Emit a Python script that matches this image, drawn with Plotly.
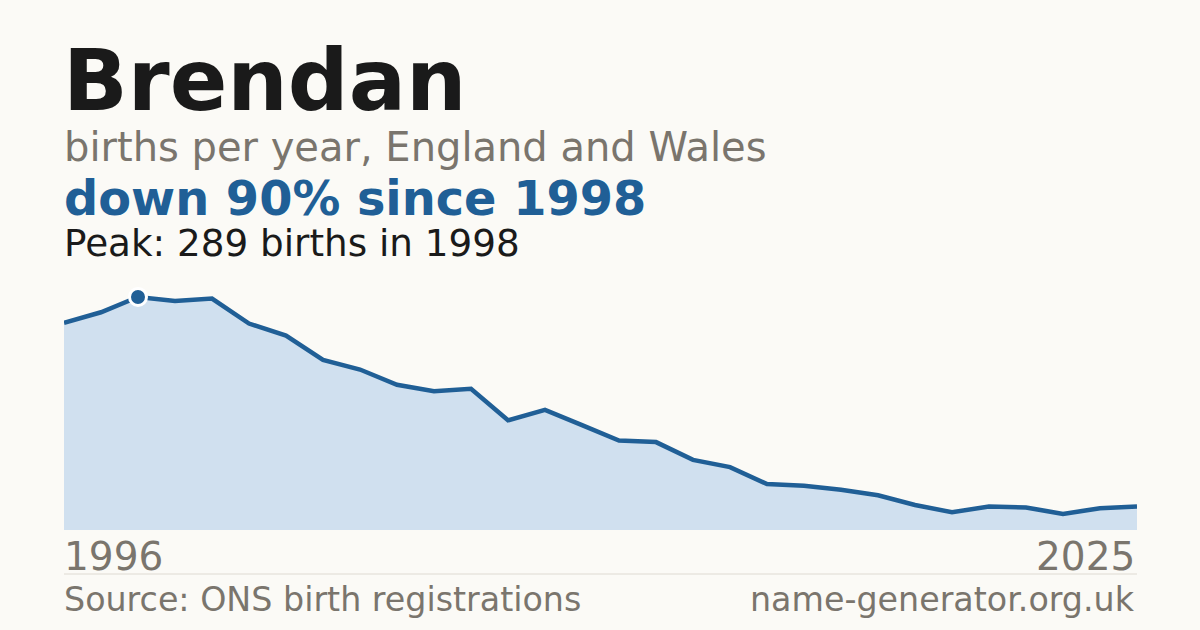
import plotly.graph_objects as go

# Births per year for the name
years = list(range(1996, 2026))
births = [257, 270, 289, 284, 287, 256, 241, 211, 199, 180,
          172, 175, 136, 149, 130, 111, 109, 87, 78, 57,
          55, 50, 43, 31, 22, 29, 28, 20, 27, 29]

name = "Brendan"
subtitle = "births per year, England and Wales"
source = "Source: ONS birth registrations"
site = "name-generator.org.uk"

BG = "#fbfaf6"
BLUE = "#205f96"
FILL = "#d0e0ef"
GREY = "#7a756d"
DARK = "#1a1a1a"
FONT = "DejaVu Sans"

peak = max(births)
peak_year = years[births.index(peak)]
change = round((1 - births[-1] / peak) * 100)

fig = go.Figure()
fig.add_trace(go.Scatter(
    x=years, y=births, mode="lines", fill="tozeroy",
    fillcolor=FILL, line=dict(color=BLUE, width=4.5),
    hoverinfo="skip", showlegend=False,
))
fig.add_trace(go.Scatter(
    x=[peak_year], y=[peak], mode="markers",
    marker=dict(size=17, color=BLUE, line=dict(color="white", width=3)),
    hoverinfo="skip", showlegend=False, cliponaxis=False,
))

PLOT_TOP, PLOT_BOT = 280, 530
LEFT = -2 / 1073  # nudge left-aligned text onto the plot's left edge


def py(px):
    """Pixel row -> paper y coordinate."""
    return (PLOT_BOT - px) / (PLOT_BOT - PLOT_TOP)


def label(text, y, size, color, bold=False, x=LEFT, xanchor="left"):
    fig.add_annotation(
        text=f"<b>{text}</b>" if bold else text,
        xref="paper", yref="paper", x=x, y=py(y),
        xanchor=xanchor, yanchor="middle", showarrow=False,
        font=dict(family=FONT, size=size, color=color),
    )


label(name, 80, 85, DARK, bold=True, x=-0.003)
label(subtitle, 147, 40, GREY)
label(f"down {change}% since {peak_year}", 198, 47.8, BLUE, bold=True)
label(f"Peak: {peak} births in {peak_year}", 243, 37.3, DARK)
label(str(years[0]), 556, 39, GREY)
label(str(years[-1]), 556, 39, GREY, x=1, xanchor="right")
label(source, 599, 33.3, GREY)
label(site, 599, 33.3, GREY, x=1, xanchor="right")

fig.add_shape(type="line", xref="paper", yref="paper",
              x0=0, x1=1, y0=py(574), y1=py(574),
              line=dict(color="#dedad2", width=1))

fig.update_layout(
    width=1200, height=630,
    paper_bgcolor=BG, plot_bgcolor=BG,
    margin=dict(l=64, r=63, t=PLOT_TOP, b=630 - PLOT_BOT),
    xaxis=dict(range=[years[0], years[-1]], visible=False, fixedrange=True),
    yaxis=dict(range=[0, 310], visible=False, fixedrange=True),
)

# drop the default page margin so the figure sits at the window's corner
fig.write_html("out.html", config={"displayModeBar": False},
               post_script="document.body.style.margin='0';")
